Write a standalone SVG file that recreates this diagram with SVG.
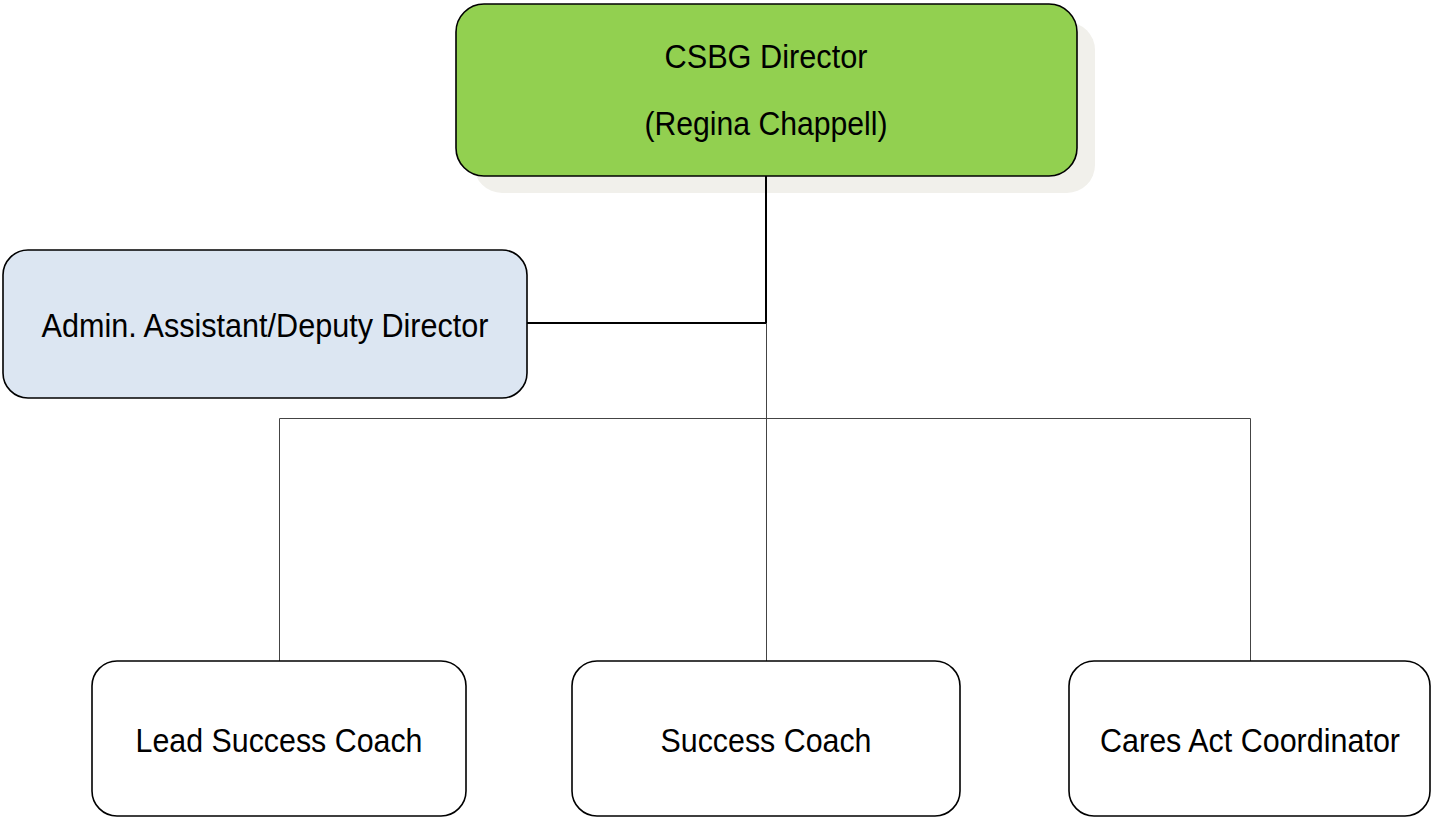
<svg xmlns="http://www.w3.org/2000/svg" width="1431" height="817" viewBox="0 0 1431 817">
<style>
.box{stroke:#000;stroke-width:1.6}
.lbl{font-family:"Liberation Sans",Arial,sans-serif;font-size:33px;fill:#000;text-anchor:middle}
.thick{stroke:#000;stroke-width:2;fill:none}
.thin{stroke:#444;stroke-width:1;fill:none}
</style>
<rect width="1431" height="817" fill="#fff"/>
<g id="director">
<rect x="474" y="22" width="621" height="171" rx="28" fill="#f1f0eb"/>
<rect class="box" x="456" y="4" width="621" height="172" rx="28" fill="#92d050"/>
<text class="lbl" x="766" y="68" textLength="203" lengthAdjust="spacingAndGlyphs">CSBG Director</text>
<text class="lbl" x="766" y="135" textLength="243" lengthAdjust="spacingAndGlyphs">(Regina Chappell)</text>
</g>
<g id="connectors">
<path class="thick" d="M766,176 V323 H527"/>
<path class="thin" d="M766.5,323 V661 M279.5,661 V418.5 H1250.5 V661"/>
</g>
<g id="admin">
<rect class="box" x="3" y="250" width="524" height="148" rx="25" fill="#dce6f2"/>
<text class="lbl" x="265" y="337" textLength="447" lengthAdjust="spacingAndGlyphs">Admin. Assistant/Deputy Director</text>
</g>
<g id="lead">
<rect class="box" x="92" y="661" width="374" height="155" rx="25" fill="#fff"/>
<text class="lbl" x="279" y="752" textLength="287" lengthAdjust="spacingAndGlyphs">Lead Success Coach</text>
</g>
<g id="success">
<rect class="box" x="572" y="661" width="388" height="155" rx="25" fill="#fff"/>
<text class="lbl" x="766" y="752" textLength="211" lengthAdjust="spacingAndGlyphs">Success Coach</text>
</g>
<g id="cares">
<rect class="box" x="1069" y="661" width="361" height="155" rx="25" fill="#fff"/>
<text class="lbl" x="1250" y="752" textLength="300" lengthAdjust="spacingAndGlyphs">Cares Act Coordinator</text>
</g>
</svg>
